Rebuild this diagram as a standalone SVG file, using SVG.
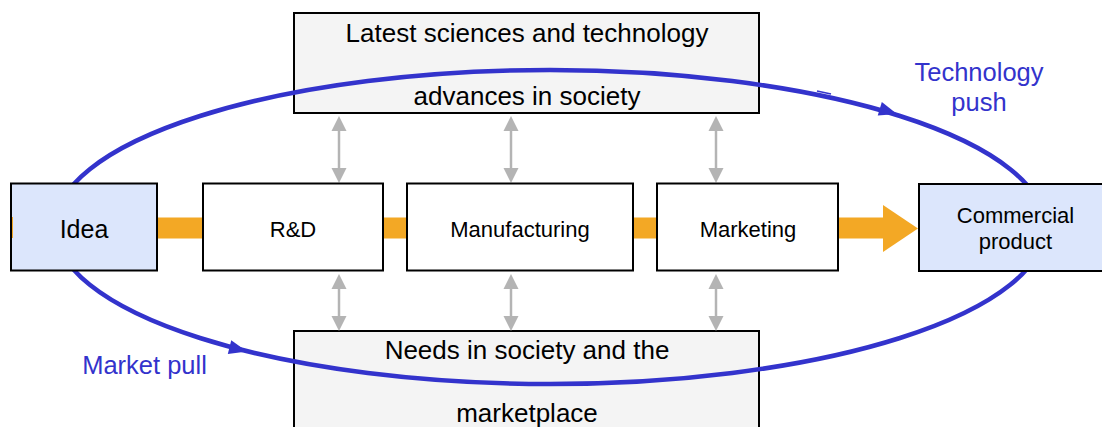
<svg xmlns="http://www.w3.org/2000/svg" width="1102" height="427" viewBox="0 0 1102 427">
<style>
.t{font-family:"Liberation Sans",Arial,sans-serif;fill:#000;text-anchor:middle}
.b{font-family:"Liberation Sans",Arial,sans-serif;fill:#3333cc;text-anchor:middle;font-size:25.5px}
.env{fill:#f4f4f4;stroke:#000;stroke-width:2}
.blue{fill:#dce6fc;stroke:#000;stroke-width:2}
.wht{fill:#fff;stroke:#000;stroke-width:2}
.g{stroke:#b4b4b4;stroke-width:2.5;fill:none}
.gh{fill:#b4b4b4}
.loop{fill:none;stroke:#3333cc;stroke-width:4.5}
</style>
<defs>
<path id="gh" d="M0,0 L-7.5,15 L7.5,15 Z" class="gh"/>
<path id="bh" d="M0,0 L-18,-7 L-18,7 Z" fill="#3333cc"/>
</defs>
<g id="flow">
<rect x="11" y="217.5" width="872" height="21" fill="#f3a825"/>
<path d="M883,205 L918,228.5 L883,252 Z" fill="#f3a825"/>
</g>
<g id="science">
<rect class="env" x="294" y="13" width="465" height="100"/>
<text class="t" x="527" y="42" font-size="26">Latest sciences and technology</text>
<text class="t" x="527" y="105" font-size="26">advances in society</text>
</g>
<g id="needs">
<rect class="env" x="294" y="331" width="465" height="120"/>
<text class="t" x="527" y="359" font-size="26">Needs in society and the</text>
<text class="t" x="527" y="422" font-size="26">marketplace</text>
</g>
<g id="connectors">
<ellipse class="loop" cx="550" cy="227" rx="495" ry="157"/>
<use href="#bh" transform="translate(897,114) rotate(17)"/>
<use href="#bh" transform="translate(247,351.5) rotate(14)"/>
<line x1="817" y1="91" x2="831" y2="94" stroke="#3333cc" stroke-width="1.5"/>
<g>
<line class="g" x1="339" y1="125" x2="339" y2="174"/>
<use href="#gh" transform="translate(339,116)"/>
<use href="#gh" transform="translate(339,183) rotate(180)"/>
<line class="g" x1="511" y1="125" x2="511" y2="174"/>
<use href="#gh" transform="translate(511,116)"/>
<use href="#gh" transform="translate(511,183) rotate(180)"/>
<line class="g" x1="716" y1="125" x2="716" y2="174"/>
<use href="#gh" transform="translate(716,116)"/>
<use href="#gh" transform="translate(716,183) rotate(180)"/>
<line class="g" x1="339" y1="283" x2="339" y2="322"/>
<use href="#gh" transform="translate(339,274)"/>
<use href="#gh" transform="translate(339,331) rotate(180)"/>
<line class="g" x1="511" y1="283" x2="511" y2="322"/>
<use href="#gh" transform="translate(511,274)"/>
<use href="#gh" transform="translate(511,331) rotate(180)"/>
<line class="g" x1="716" y1="283" x2="716" y2="322"/>
<use href="#gh" transform="translate(716,274)"/>
<use href="#gh" transform="translate(716,331) rotate(180)"/>
</g>
</g>
<g id="idea">
<rect class="blue" x="11" y="183.5" width="146" height="87"/>
<line x1="12.5" y1="217" x2="12.5" y2="238" stroke="#f3a825" stroke-width="1"/>
<text class="t" x="84" y="238" font-size="25">Idea</text>
</g>
<g id="rd">
<rect class="wht" x="203" y="183.5" width="180" height="87"/>
<text class="t" x="293" y="237" font-size="22">R&amp;D</text>
</g>
<g id="manufacturing">
<rect class="wht" x="407" y="183.5" width="226" height="87"/>
<text class="t" x="520" y="237" font-size="22">Manufacturing</text>
</g>
<g id="marketing">
<rect class="wht" x="657" y="183.5" width="181" height="87"/>
<text class="t" x="748" y="237" font-size="22">Marketing</text>
</g>
<g id="product">
<rect class="blue" x="919" y="184" width="200" height="87"/>
<text class="t" x="1015.5" y="223" font-size="22">Commercial</text>
<text class="t" x="1015.5" y="249" font-size="22">product</text>
</g>
<g id="labels">
<text class="b" x="979" y="81">Technology</text>
<text class="b" x="979" y="111">push</text>
<text class="b" x="144.5" y="374">Market pull</text>
</g>
</svg>
